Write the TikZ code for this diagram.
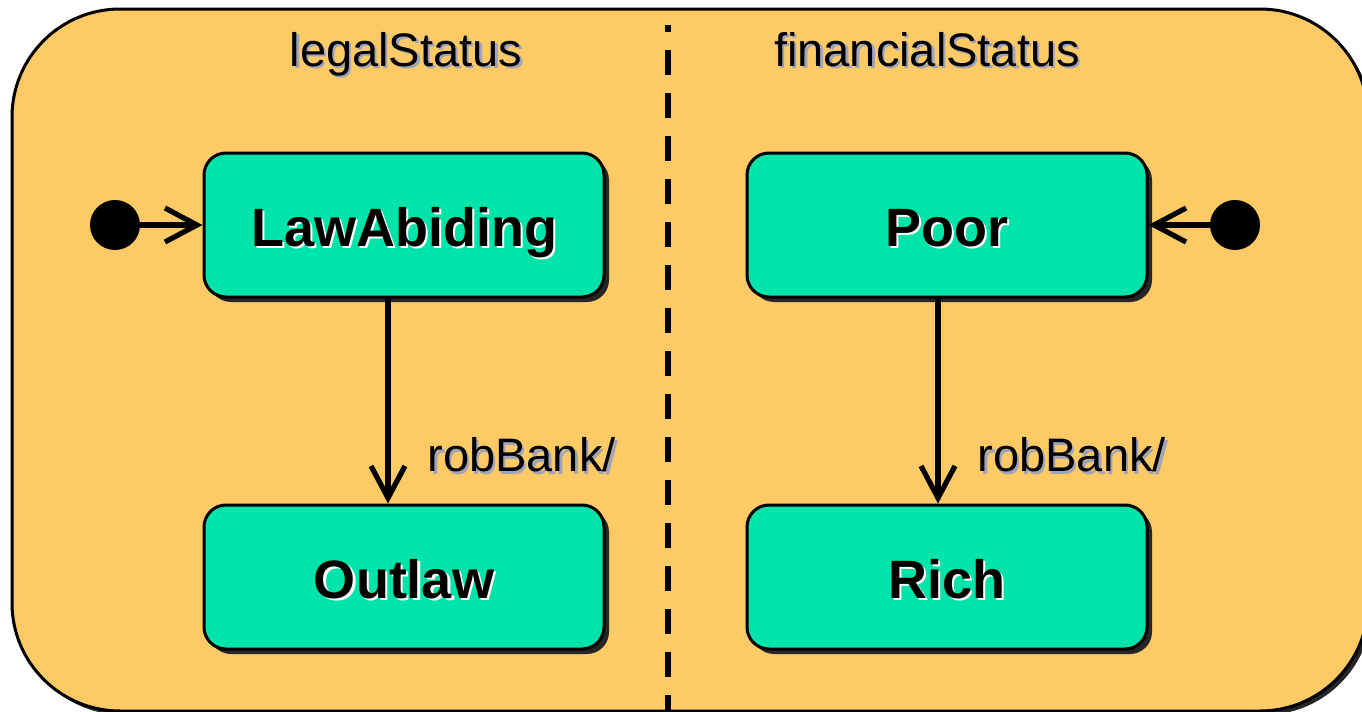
\documentclass[tikz,border=0pt]{standalone}
\usepackage{fontspec}
\setmainfont{Liberation Sans}
\usepackage{xcolor}
\definecolor{regionorange}{RGB}{253,202,102}
\definecolor{stategreen}{RGB}{0,228,170}
\definecolor{textshade}{RGB}{160,164,184}
\usetikzlibrary{arrows.meta,positioning,shadows}
% text with a small offset shadow behind it
\newcommand{\shadedtext}[2]{\rlap{\kern1.2pt\raisebox{-1.2pt}{\textcolor{#1}{#2}}}#2}

\begin{document}
\begin{tikzpicture}[x=0.5pt,y=-0.5pt,
  region/.style={draw=black,line width=1.5pt,fill=regionorange,rounded corners=54pt,
    drop shadow={shadow xshift=2pt,shadow yshift=-2pt,fill=black!85,opacity=1}},
  state/.style={draw=black,line width=1.5pt,fill=stategreen,rounded corners=11pt,
    minimum width=200pt,minimum height=72pt,inner sep=0pt,text height=21pt,text depth=0pt,
    font=\fontsize{27}{30}\selectfont\bfseries,
    drop shadow={shadow xshift=2.5pt,shadow yshift=-2.5pt,fill=black!85,opacity=1}},
  initdot/.style={circle,fill=black,inner sep=0pt,minimum size=25pt},
  trans/.style={-{Straight Barb[length=16pt,width=17pt]},line width=2.6pt},
  evlabel/.style={font=\fontsize{23.5}{26}\selectfont,inner sep=0pt,anchor=base west},
  title/.style={font=\fontsize{23.5}{26}\selectfont,inner sep=0pt,anchor=base}]
  \useasboundingbox (0,0) rectangle (1362,712);
  % composite state
  \draw[region] (12,9) rectangle (1368,711);
  \draw[line width=3.2pt,dash pattern=on 12.5pt off 9pt,dash phase=9pt] (668,25) -- (668,720);
  % region titles
  \node[title] (legalTitle) at (406,66) {\shadedtext{textshade}{legalStatus}};
  \node[title] (finTitle) at (927,66) {\shadedtext{textshade}{financialStatus}};
  % legal region
  \node[state] (lawAbiding) at (404,225) {\shadedtext{white}{LawAbiding}};
  \node[state] (outlaw) at (404,577) {\shadedtext{white}{Outlaw}};
  \node[initdot] (initLegal) at (115,225) {};
  % financial region
  \node[state] (poor) at (947,225) {\shadedtext{white}{Poor}};
  \node[state] (rich) at (947,577) {\shadedtext{white}{Rich}};
  \node[initdot] (initFin) at (1235,225) {};
  % transitions
  \draw[trans] (initLegal) -- (lawAbiding);
  \draw[trans] (initFin) -- (poor);
  \draw[trans] ([xshift=-8pt]lawAbiding.south) -- ([xshift=-8pt]outlaw.north)
    node[evlabel,pos=0.846,xshift=18.5pt] (robLegal) {\shadedtext{textshade}{robBank/}};
  \draw[trans] ([xshift=-4.5pt]poor.south) -- ([xshift=-4.5pt]rich.north)
    node[evlabel,pos=0.846,xshift=18.5pt] (robFin) {\shadedtext{textshade}{robBank/}};
\end{tikzpicture}
\end{document}
